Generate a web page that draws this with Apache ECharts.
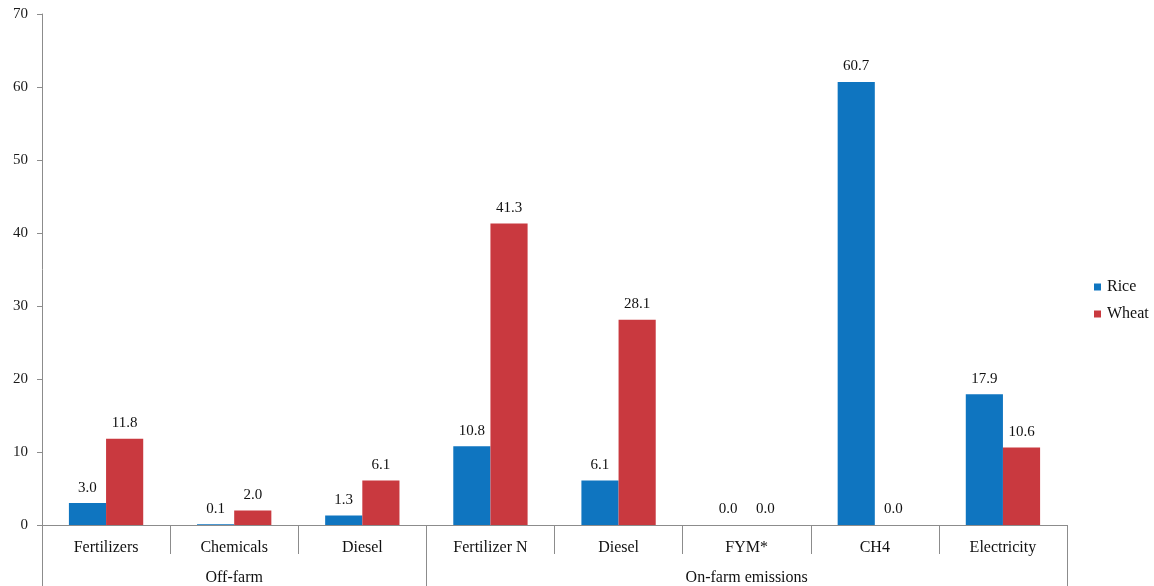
<!DOCTYPE html>
<html>
<head>
<meta charset="utf-8">
<script src="https://cdn.jsdelivr.net/npm/echarts@6/dist/echarts.min.js"></script>
<style>
  html, body { margin: 0; padding: 0; background: #fff; }
  #chart { width: 1154px; height: 586px; }
</style>
</head>
<body>
<div id="chart"></div>
<script>
// Emission sources (lower axis row) and their groups (bottom row)
const categories = ['Fertilizers', 'Chemicals', 'Diesel', 'Fertilizer N', 'Diesel', 'FYM*', 'CH4', 'Electricity'];
const groupLabels = ['', 'Off-farm', '', '', '', 'On-farm emissions', '', ''];
const groupStarts = [0, 3, 8];   // boundaries between the groups (category index)

const riceValues  = [3.0, 0.1, 1.3, 10.8, 6.1, 0.0, 60.7, 17.9];
const wheatValues = [11.8, 2.0, 6.1, 41.3, 28.1, 0.0, 0.0, 10.6];

const FONT = '"Liberation Serif", "Times New Roman", serif';
const AXIS_COLOR = '#8c8c8c';

const chart = echarts.init(document.getElementById('chart'), null, { renderer: 'canvas' });

const barLabel = {
  show: true,
  position: 'top',
  distance: 8,
  fontFamily: FONT,
  fontSize: 15,
  color: '#111',
  formatter: p => Number(p.value).toFixed(1)
};

chart.setOption({
  animation: false,
  textStyle: { fontFamily: FONT },
  grid: { left: 42, right: 87, top: 14, bottom: 60, containLabel: false },
  legend: {
    orient: 'vertical',
    left: 1089,
    top: 274,
    itemWidth: 7,
    itemHeight: 7,
    itemGap: 11,
    icon: 'rect',
    textStyle: { fontFamily: FONT, fontSize: 16, color: '#111', padding: [0, 0, 0, 1] },
    data: ['Rice', 'Wheat']
  },
  xAxis: [
    {
      type: 'category',
      data: categories,
      position: 'bottom',
      axisLine: { show: true, lineStyle: { color: AXIS_COLOR, width: 1 } },
      axisTick: { show: true, interval: 0, length: 29, inside: false, lineStyle: { color: AXIS_COLOR } },
      axisLabel: { interval: 0, margin: 15, fontFamily: FONT, fontSize: 16, color: '#111' },
      splitLine: { show: false }
    },
    {
      type: 'category',
      data: groupLabels,
      position: 'bottom',
      offset: 29,
      axisLine: { show: false },
      axisTick: {
        show: true,
        length: 32,
        interval: idx => groupStarts.indexOf(idx) !== -1,
        lineStyle: { color: AXIS_COLOR }
      },
      axisLabel: { interval: 0, margin: 16, fontFamily: FONT, fontSize: 16, color: '#111' },
      splitLine: { show: false }
    }
  ],
  yAxis: {
    type: 'value',
    min: 0,
    max: 70,
    interval: 10,
    axisLine: { show: true, lineStyle: { color: AXIS_COLOR } },
    axisTick: { show: true, length: 5, lineStyle: { color: AXIS_COLOR } },
    axisLabel: { margin: 14, fontFamily: FONT, fontSize: 15, color: '#1a1a1a' },
    splitLine: { show: false }
  },
  series: [
    {
      name: 'Rice',
      type: 'bar',
      xAxisIndex: 0,
      data: riceValues,
      barGap: '0%',
      barCategoryGap: '42%',
      itemStyle: { color: '#0f75c0' },
      label: barLabel
    },
    {
      name: 'Wheat',
      type: 'bar',
      xAxisIndex: 0,
      data: wheatValues,
      barGap: '0%',
      barCategoryGap: '42%',
      itemStyle: { color: '#c9393f' },
      label: barLabel
    }
  ]
});
</script>
</body>
</html>
